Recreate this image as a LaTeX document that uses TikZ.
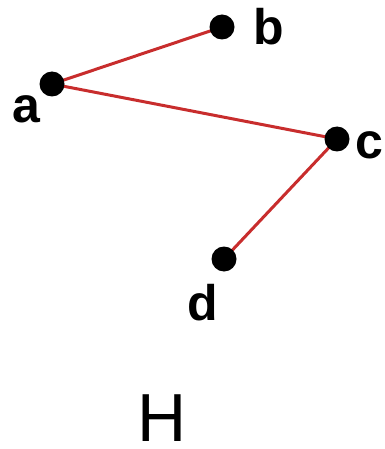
\documentclass[tikz,border=0pt]{standalone}
\usepackage{fontspec}
\setmainfont{Liberation Sans}
\begin{document}
\begin{tikzpicture}[x=1pt,y=-1pt,
  dot/.style={circle,fill=black,inner sep=0pt,minimum size=25pt},
  lbl/.style={anchor=base,inner sep=0pt,font=\fontsize{50}{50}\selectfont\bfseries},
  edge/.style={draw={rgb,255:red,200;green,45;blue,45},line width=3pt}]
\useasboundingbox (0,0) rectangle (384,449);
\coordinate (pa) at (52,84);
\coordinate (pb) at (222,27);
\coordinate (pc) at (337,139);
\coordinate (pd) at (224,259);
\draw[edge] (pa) -- (pb);
\draw[edge] (pa) -- (pc);
\draw[edge] (pc) -- (pd);
\node[dot] (a) at (pa) {};
\node[dot] (b) at (pb) {};
\node[dot] (c) at (pc) {};
\node[dot] (d) at (pd) {};
\node[lbl] (la) at (26,123) {a};
\node[lbl] (lb) at (269,45) {b};
\node[lbl] (lc) at (369,158) {c};
\node[lbl] (ld) at (203,320) {d};
\node[anchor=base,inner sep=0pt,font=\fontsize{68}{68}\selectfont] (H) at (162,441) {H};
\end{tikzpicture}
\end{document}
